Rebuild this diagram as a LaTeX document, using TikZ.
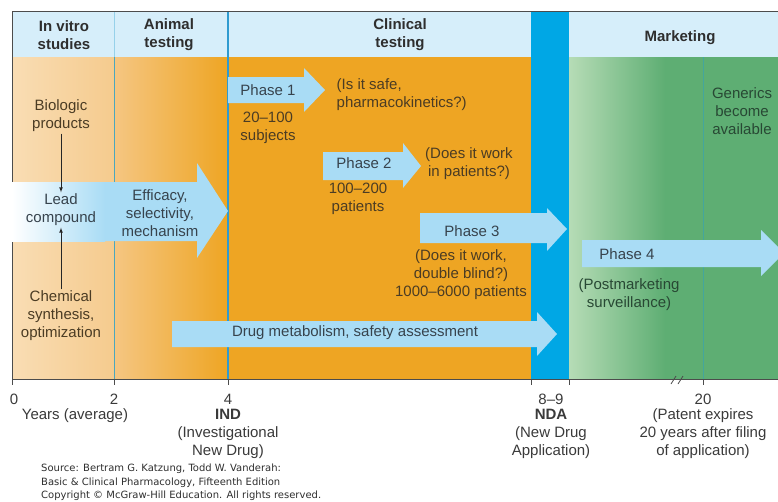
\documentclass[tikz,border=0pt]{standalone}
\usepackage{fontspec}
\setmainfont{Liberation Sans}
\newfontfamily\srcfont{DejaVu Sans}
\usepackage{tikz}
\usetikzlibrary{arrows}
\definecolor{hdrblue}{HTML}{D6EEFA}
\definecolor{arrblue}{HTML}{A9DCF5}
\definecolor{ndablue}{HTML}{00A7E5}
\definecolor{orng}{HTML}{EEA523}
\definecolor{tanlight}{HTML}{F9DDB4}
\definecolor{tan}{HTML}{F5CB8E}
\definecolor{tanmid}{HTML}{F5C682}
\definecolor{grnlight}{HTML}{B6DCB6}
\definecolor{grn}{HTML}{5EAE73}
\definecolor{divteal}{HTML}{4AA7BE}
\definecolor{divblue}{HTML}{2F9BD0}
\definecolor{grnline}{HTML}{44A69C}
\definecolor{hdrtxt}{HTML}{2E2E2E}
\definecolor{browntxt}{HTML}{4B3C24}
\definecolor{bluetxt}{HTML}{37434D}
\definecolor{grntxt}{HTML}{284834}
\definecolor{axtxt}{HTML}{3A3A3A}
\tikzset{txt/.style={font=\fontsize{15}{18}\selectfont, align=center, inner sep=1.5pt},
    hdr/.style={txt, font=\fontsize{15}{18}\selectfont\bfseries, text=hdrtxt},
    lbl/.style={txt, text=axtxt},
    src/.style={font=\srcfont\fontsize{10}{13.5}\selectfont, align=left, inner sep=0pt, text=hdrtxt},
    fat/.style={fill=arrblue},}

\begin{document}
\begin{tikzpicture}[x=1pt,y=-1pt]
  \useasboundingbox (0,0) rectangle (778,501);
  \clip (0,0) rectangle (778,501);
  \fill[hdrblue] (12,11) rectangle (778,57);
  \shade[left color=tanlight, right color=tan] (12,57) rectangle (114,379);
  \shade[left color=tanmid, right color=orng] (114,57) rectangle (228,379);
  \fill[orng] (228,57) rectangle (531,379);
  \shade[left color=grnlight, right color=grn] (569,57) rectangle (665,379);
  \fill[grn] (665,57) rectangle (778,379);
  \fill[ndablue] (531,11) rectangle (569,379);
  \draw[line width=1pt, color=arrblue!80!divteal] (114,11) -- (114,57);
  \draw[line width=1pt, color=divteal] (114,57) -- (114,379);
  \draw[line width=1.4pt, color=divblue] (228,11) -- (228,379);
  \draw[line width=1pt, color=grnline] (703,57) -- (703,379);
  \draw[line width=0.8pt, color=black!70] (12,11) -- (778,11);
  \draw[line width=0.8pt, color=black!70] (12,11) -- (12,379);
  \fill[fat] (12,182) -- (197,182) -- (197,163) -- (228,211) -- (197,258) -- (197,241) -- (12,241) -- cycle;
  \shade[left color=white, right color=arrblue] (12,182) rectangle (105,241);
  \fill[fat] (228,77) -- (304,77) -- (304,68) -- (325,90) -- (304,112) -- (304,103) -- (228,103) -- cycle;
  \fill[fat] (323,152) -- (403,152) -- (403,143) -- (421,166) -- (403,188) -- (403,180) -- (323,180) -- cycle;
  \fill[fat] (420,213) -- (547,213) -- (547,208) -- (567,229) -- (547,251) -- (547,243) -- (420,243) -- cycle;
  \fill[fat] (582,240) -- (761,240) -- (761,230) -- (784,253) -- (761,276) -- (761,267) -- (582,267) -- cycle;
  \fill[fat] (172,321) -- (537,321) -- (537,312) -- (557,334) -- (537,356) -- (537,347) -- (172,347) -- cycle;
  \node[hdr] (vitro) at (64,35) {In vitro\\studies};
  \node[hdr] (animal) at (169,35) {Animal\\testing};
  \node[hdr] (clinical) at (400,35) {Clinical\\testing};
  \node[hdr] (market) at (680,38) {Marketing};
  \node[txt, text=browntxt] (bio) at (61,116) {Biologic\\products};
  \node[txt, text=bluetxt] (lead) at (61,210) {Lead\\compound};
  \node[txt, text=browntxt] (chem) at (61,316) {Chemical\\synthesis,\\optimization};
  \node[txt, text=bluetxt] (effic) at (160,213) {Efficacy,\\selectivity,\\mechanism};
  \draw[-latex, line width=0.7pt, color=black!85] (bio) -- (lead);
  \draw[-latex, line width=0.7pt, color=black!85] (chem) -- (lead);
  \node[txt, text=bluetxt] (ph1) at (268,90) {Phase 1};
  \node[txt, text=browntxt] (ph1n) at (268,128) {20\textendash100\\subjects};
  \node[txt, text=browntxt, anchor=west, align=left] (ph1q) at (335,95) {(Is it safe,\\pharmacokinetics?)};
  \node[txt, text=bluetxt] (ph2) at (364,163) {Phase 2};
  \node[txt, text=browntxt] (ph2n) at (358,199) {100\textendash200\\patients};
  \node[txt, text=browntxt] (ph2q) at (469,164) {(Does it work\\in patients?)};
  \node[txt, text=bluetxt] (ph3) at (472,231) {Phase 3};
  \node[txt, text=browntxt] (ph3q) at (461,275) {(Does it work,\\double blind?)\\1000\textendash6000 patients};
  \node[txt, text=bluetxt] (ph4) at (627,254) {Phase 4};
  \node[txt, text=grntxt] (ph4q) at (629,295) {(Postmarketing\\surveillance)};
  \node[txt, text=bluetxt] (drug) at (355,333) {Drug metabolism, safety assessment};
  \node[txt, text=grntxt] (gen) at (742,111) {Generics\\become\\available};
  \draw[line width=0.8pt, color=black!70] (12,379) -- (778,379);
  \foreach \x in {12,114,228,531,569,703}
    \draw[line width=0.8pt, color=black!70] (\x,379) -- (\x,385);
  \draw[line width=0.8pt, color=black!70] (671,384) -- (676,376);
  \draw[line width=0.8pt, color=black!70] (678,384) -- (683,376);
  \node[lbl] (t0) at (14,399) {0};
  \node[lbl] (t2) at (114,399) {2};
  \node[lbl] (t4) at (228,399) {4};
  \node[lbl] (years) at (75,416) {Years (average)};
  \node[lbl] (ind) at (228,434) {\textbf{IND}\\(Investigational\\New Drug)};
  \node[lbl] (t89) at (551,399) {8\textendash9};
  \node[lbl] (nda) at (551,434) {\textbf{NDA}\\(New Drug\\Application)};
  \node[lbl] (t20) at (703,399) {20};
  \node[lbl] (patent) at (703,434) {(Patent expires\\20 years after filing\\of application)};
  \node[src, anchor=north west] (source) at (41,464) {Source: Bertram G. Katzung, Todd W. Vanderah:\\Basic \& Clinical Pharmacology, Fifteenth Edition\\Copyright \textcopyright{} McGraw-Hill Education. All rights reserved.};
\end{tikzpicture}
\end{document}
